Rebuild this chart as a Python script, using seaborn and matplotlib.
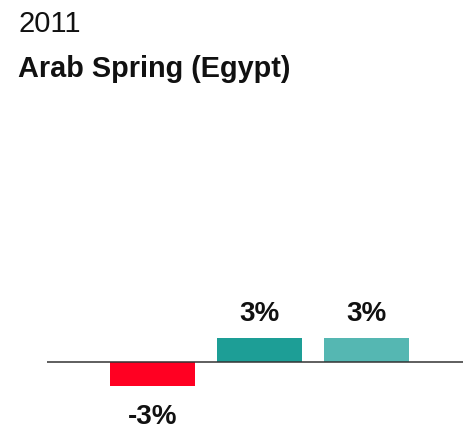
import matplotlib
matplotlib.use("Agg")
import matplotlib.pyplot as plt
import seaborn as sns
import pandas as pd

# chart data
year = "2011"
event = "Arab Spring (Egypt)"
series = ["Series 1", "Series 2", "Series 3"]
values = [-3, 3, 3]
labels = ["-3%", "3%", "3%"]
colors = ["#FF0022", "#1D9E96", "#55B7B2"]

sns.set_theme(style="white")
plt.rcParams["font.family"] = ["Liberation Sans", "DejaVu Sans"]

df = pd.DataFrame({"series": series, "value": values})

fig = plt.figure(figsize=(4.63, 4.30), dpi=100)
ax = fig.add_axes([47 / 463, 0, 416 / 463, 330 / 430])

sns.barplot(data=df, x="series", y="value", hue="series", palette=colors,
            width=0.8, legend=False, ax=ax, saturation=1, linewidth=0)

# baseline drawn over the bars
ax.axhline(0, color="#333333", lw=1.1, zorder=5)

for cont, lab, v in zip(ax.containers, labels, values):
    ax.bar_label(cont, labels=[lab], padding=8 if v > 0 else 13,
                 fontsize=20, fontweight="bold", color="#111111")

ax.set_xlim(-0.986, 2.902)
ax.set_ylim(-8.5, 32.75)
ax.axis("off")

fig.text(18 / 463, 1 - 32 / 430, year, fontsize=21, color="#111111",
         ha="left", va="baseline")
fig.text(18 / 463, 1 - 77 / 430, event, fontsize=20.8, fontweight="bold",
         color="#111111", ha="left", va="baseline")

fig.savefig("out.png", dpi=100)
